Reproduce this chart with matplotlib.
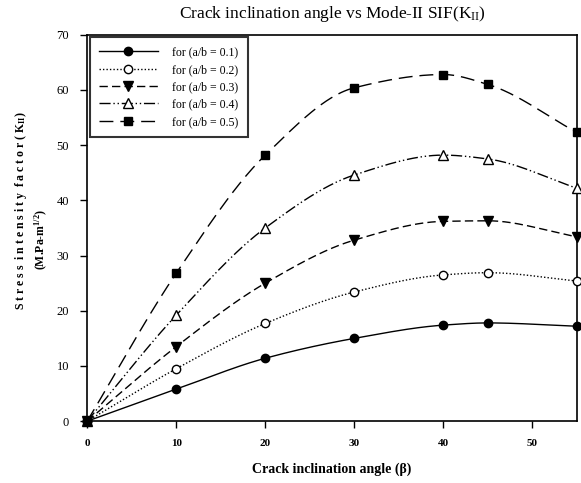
import numpy as np
import matplotlib
matplotlib.use("Agg")
import matplotlib.pyplot as plt

plt.rcParams['font.family'] = ['Liberation Serif', 'DejaVu Serif']
plt.rcParams['mathtext.fontset'] = 'custom'
plt.rcParams['mathtext.rm'] = 'Liberation Serif'
plt.rcParams['mathtext.it'] = 'Liberation Serif:italic'
plt.rcParams['mathtext.bf'] = 'Liberation Serif:bold'

angles = [0, 10, 20, 30, 40, 45, 55]
sif_01 = [0, 5.8, 11.4, 15.0, 17.4, 17.8, 17.2]
sif_02 = [0, 9.5, 17.7, 23.4, 26.5, 26.9, 25.4]
sif_03 = [0, 13.5, 25.0, 32.8, 36.2, 36.3, 33.4]
sif_04 = [0, 19.2, 35.0, 44.6, 48.2, 47.5, 42.2]
sif_05 = [0, 26.8, 48.2, 60.4, 62.8, 61.0, 52.3]
labels = ['for (a/b = 0.1)', 'for (a/b = 0.2)', 'for (a/b = 0.3)',
          'for (a/b = 0.4)', 'for (a/b = 0.5)']
xticks = [0, 10, 20, 30, 40, 50]
yticks = [0, 10, 20, 30, 40, 50, 60, 70]


def smooth_curve(x, y, n=300):
    # monotone-ish cubic Hermite (Fritsch-Carlson) through the data points
    x = np.asarray(x, float); y = np.asarray(y, float)
    h = np.diff(x); d = np.diff(y) / h
    m = np.zeros_like(y)
    m[0] = d[0]; m[-1] = d[-1]
    for i in range(1, len(x) - 1):
        if d[i - 1] * d[i] <= 0:
            m[i] = 0
        else:
            w1 = 2 * h[i] + h[i - 1]; w2 = h[i] + 2 * h[i - 1]
            m[i] = (w1 + w2) / (w1 / d[i - 1] + w2 / d[i])
    xs = np.linspace(x[0], x[-1], n)
    idx = np.clip(np.searchsorted(x, xs) - 1, 0, len(x) - 2)
    t = (xs - x[idx]) / h[idx]
    h00 = 2 * t**3 - 3 * t**2 + 1; h10 = t**3 - 2 * t**2 + t
    h01 = -2 * t**3 + 3 * t**2; h11 = t**3 - t**2
    ys = h00 * y[idx] + h10 * h[idx] * m[idx] + h01 * y[idx + 1] + h11 * h[idx] * m[idx + 1]
    return xs, ys


fig = plt.figure(figsize=(5.81, 4.83), dpi=100)
ax = fig.add_axes([0.150, 0.128, 0.843, 0.800])

series = [sif_01, sif_02, sif_03, sif_04, sif_05]
styles = [
    dict(ls='-', marker='o', mfc='black', ms=6),
    dict(ls=(0, (1, 1.5)), marker='o', mfc='white', ms=6),
    dict(ls=(0, (6, 3)), marker='v', mfc='black', ms=7),
    dict(ls=(0, (8, 2, 1, 2, 1, 2)), marker='^', mfc='white', ms=7),
    dict(ls=(0, (10, 5)), marker='s', mfc='black', ms=6),
]
for ys, st, lab in zip(series, styles, labels):
    xs_s, ys_s = smooth_curve(angles, ys)
    ax.plot(xs_s, ys_s, color='black', lw=1.0, ls=st['ls'])
    ax.plot(angles, ys, ls='none', marker=st['marker'], mfc=st['mfc'],
            mec='black', ms=st['ms'], clip_on=False, zorder=5)
    ax.plot([], [], color='black', lw=1.0, ls=st['ls'], marker=st['marker'],
            mfc=st['mfc'], mec='black', ms=st['ms'], label=lab)

ax.set_xlim(0, 55)
ax.set_ylim(0, 70)
ax.set_xticks(xticks)
ax.set_yticks(yticks)
ax.set_xticklabels([str(t) for t in xticks], fontsize=8, fontweight='bold')
ax.set_yticklabels([str(t) for t in yticks], fontsize=9)
ax.tick_params(direction='out', length=5, width=1, top=False, right=False, pad=8)
for s in ax.spines.values():
    s.set_linewidth(1.2)

leg = ax.legend(loc='upper left', fontsize=8.5, handlelength=5, frameon=True,
                fancybox=False, edgecolor='black', borderaxespad=0.2,
                labelspacing=0.45, handletextpad=1.2, borderpad=0.8)
leg.get_frame().set_linewidth(1.5)

ax.set_title('Crack inclination angle vs Mode-II SIF(K$_{\\mathrm{II}}$)', fontsize=12.5, pad=12)
ax.set_xlabel('Crack inclination angle (β)', fontsize=10, fontweight='bold', labelpad=10)
fig.text(0.037, 0.565, 'S t r e s s  i n t e n s i t y  f a c t o r ( K$_{\\mathbf{II}}$)',
         rotation=90, ha='center', va='center', fontsize=8.5, fontweight='bold')
fig.text(0.072, 0.505, '(M.Pa-m$^{\\mathbf{1/2}}$)', rotation=90, ha='center', va='center',
         fontsize=8.5, fontweight='bold')

fig.savefig('out.png', dpi=100)
